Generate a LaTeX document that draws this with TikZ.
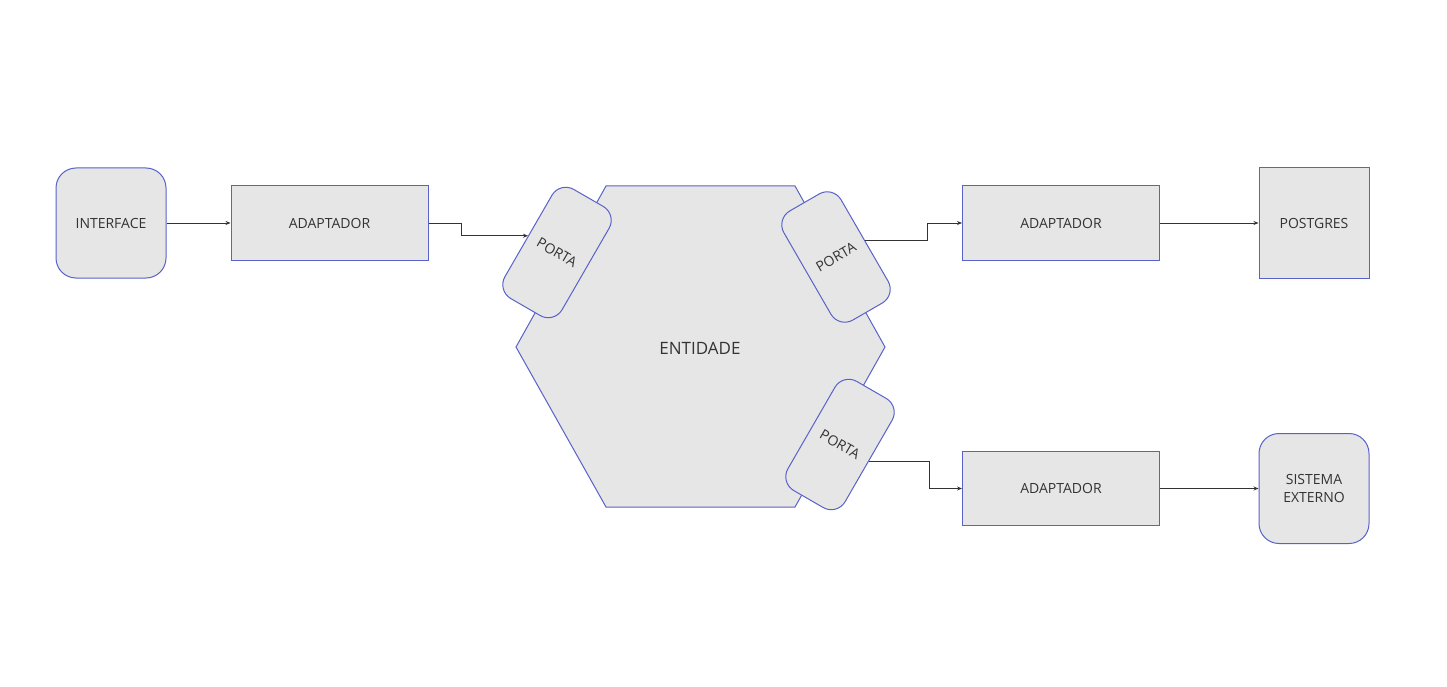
\documentclass[tikz,border=0pt]{standalone}
\usepackage{fontspec}
\setmainfont{Open Sans}
\usetikzlibrary{arrows.meta}
\definecolor{borda}{RGB}{89,98,201}
\definecolor{fundo}{RGB}{230,230,230}
\definecolor{texto}{RGB}{51,51,51}
\begin{document}
\begin{tikzpicture}[x=1pt,y=-1pt,
  caixa/.style={draw=borda, fill=fundo, line width=1pt, text=texto,
    font=\fontsize{14}{18}\selectfont, align=center, inner sep=0pt},
  adapt/.style={caixa, minimum width=197pt, minimum height=74pt},
  redonda/.style={caixa, rounded corners=20pt, minimum width=110pt, minimum height=110pt},
  porta/.style={caixa, rounded corners=16pt, minimum width=66pt, minimum height=126pt},
  seta/.style={draw=texto, line width=0.9pt, -{Stealth[length=5pt,width=4pt]}}]
\useasboundingbox (0,0) rectangle (1447,687);
\fill[white] (0,0) rectangle (1447,687);
% entidade
\draw[draw=borda, fill=fundo, line width=1pt] (606,186) -- (795,186) -- (885,347) -- (795,507) -- (606,507) -- (516,347) -- cycle;
\node[text=texto, font=\fontsize{17}{20}\selectfont] (entidade) at (700,348) {ENTIDADE};
% portas
\node[porta, rotate=-30] (porta1) at (557,252.5) {PORTA};
\node[porta, rotate=30] (porta2) at (836,257) {PORTA};
\node[porta, rotate=-30] (porta3) at (840,444.5) {PORTA};
% lado esquerdo
\node[redonda] (interface) at (111,223) {INTERFACE};
\node[adapt] (ad1) at (329.5,223) {ADAPTADOR};
% lado direito
\node[adapt] (ad2) at (1061,223) {ADAPTADOR};
\node[adapt] (ad3) at (1061,488.5) {ADAPTADOR};
\node[caixa, minimum width=110pt, minimum height=110pt] (postgres) at (1314,223) {POSTGRES};
\node[redonda] (externo) at (1314,488.5) {SISTEMA\\EXTERNO};
% conexoes
\draw[seta] (interface) -- (ad1);
\draw[seta] (ad1.east) -- ++(33,0) |- (porta1.west);
\draw[seta] (porta2.east) -- ++(62,0) |- (ad2.west);
\draw[seta] (porta3.east) -- ++(60,0) |- (ad3.west);
\draw[seta] (ad2) -- (postgres);
\draw[seta] (ad3) -- (externo);
\end{tikzpicture}
\end{document}
